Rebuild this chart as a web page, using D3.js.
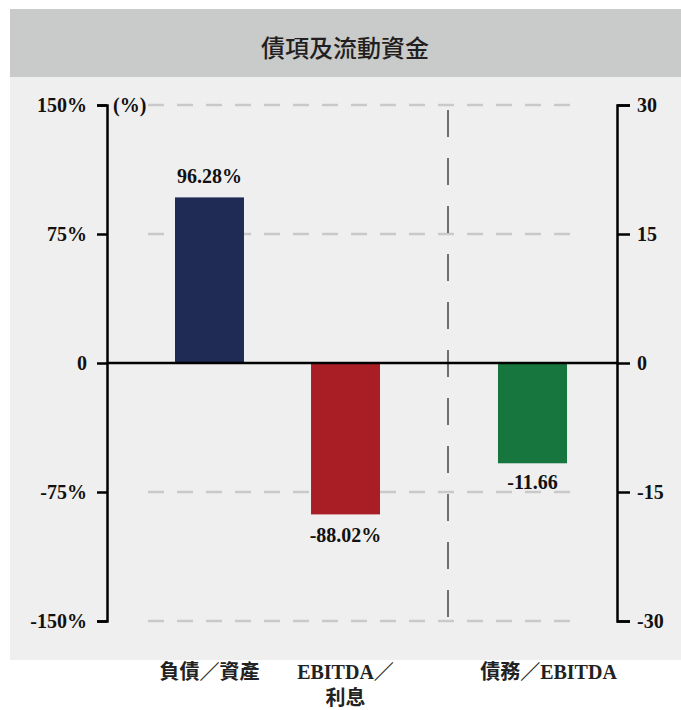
<!DOCTYPE html>
<html>
<head>
<meta charset="utf-8">
<script src="https://cdn.jsdelivr.net/npm/d3@7"></script>
<style>
  body { margin: 0; background: #fff; }
  svg { display: block; }
  .tick text, .val, .unit { font-family: "Liberation Serif", "Noto Sans CJK TC", serif; font-weight: bold; font-size: 20px; fill: #111; }
  .cat { font-family: "Liberation Serif", "Noto Sans CJK TC", serif; font-weight: bold; font-size: 20px; fill: #222; }
</style>
</head>
<body>
<svg width="681" height="710"></svg>
<script>
// left panel (%), right panel (times)
const leftCategories = ["負債／資產", "EBITDA／\n利息"];
const leftValues = [96.28, -88.02];
const rightCategories = ["債務／EBITDA"];
const rightValues = [-11.66];
const leftTicks = [150, 75, 0, -75, -150];
const rightTicks = [30, 15, 0, -15, -30];
const barColours = ["#1f2b55", "#a91e24", "#17763d"];
const title = "債項及流動資金";

let svg = d3.select("svg");
let width = +svg.attr("width");

// backgrounds
svg.append("rect").attr("x", 10).attr("y", 9).attr("width", width - 10).attr("height", 68).attr("fill", "#c9caca");
svg.append("rect").attr("x", 10).attr("y", 77).attr("width", width - 10).attr("height", 583).attr("fill", "#efefef");

svg.append("text")
  .attr("x", 345).attr("y", 57)
  .attr("text-anchor", "middle")
  .style("font-family", "'Noto Sans CJK TC', sans-serif")
  .style("font-size", "24px")
  .style("font-weight", "500")
  .style("fill", "#231f20")
  .text(title);

// scales
let yLeft = d3.scaleLinear().domain([-150, 150]).range([621, 105]);
let yRight = d3.scaleLinear().domain([-30, 30]).range([621, 105]);

let xLeft = d3.scaleBand().domain(leftCategories).range([107, 448]).paddingInner(0.493).paddingOuter(0.5);
let xRight = d3.scaleBand().domain(rightCategories).range([448, 617]).paddingInner(0.493).paddingOuter(0.367);

// dashed gridlines (not at zero)
svg.append("g")
  .selectAll("line")
  .data(leftTicks.filter(d => d !== 0))
  .enter()
  .append("line")
  .attr("x1", 148).attr("x2", 578)
  .attr("y1", d => yLeft(d)).attr("y2", d => yLeft(d))
  .attr("stroke", "#c9c9c9")
  .attr("stroke-width", 2.5)
  .attr("stroke-dasharray", "16,13");

// panel divider
svg.append("line")
  .attr("x1", 448).attr("x2", 448)
  .attr("y1", 110).attr("y2", 621)
  .attr("stroke", "#444")
  .attr("stroke-width", 1.5)
  .attr("stroke-dasharray", "27,21");

// bars
svg.append("g")
  .selectAll("rect")
  .data(leftValues)
  .enter()
  .append("rect")
  .attr("x", (d, i) => xLeft(leftCategories[i]))
  .attr("width", xLeft.bandwidth())
  .attr("y", d => yLeft(Math.max(0, d)))
  .attr("height", d => Math.abs(yLeft(d) - yLeft(0)))
  .attr("fill", (d, i) => barColours[i]);

svg.append("g")
  .selectAll("rect")
  .data(rightValues)
  .enter()
  .append("rect")
  .attr("x", (d, i) => xRight(rightCategories[i]))
  .attr("width", xRight.bandwidth())
  .attr("y", d => yRight(Math.max(0, d)))
  .attr("height", d => Math.abs(yRight(d) - yRight(0)))
  .attr("fill", (d, i) => barColours[leftValues.length + i]);

// zero line
svg.append("line")
  .attr("x1", 107).attr("x2", 617)
  .attr("y1", yLeft(0)).attr("y2", yLeft(0))
  .attr("stroke", "#000")
  .attr("stroke-width", 2.5);

// axes
let leftAxis = svg.append("g")
  .attr("transform", "translate(107,0)")
  .call(d3.axisLeft(yLeft).tickValues(leftTicks).tickSize(10).tickPadding(10)
    .tickFormat(d => d === 0 ? "0" : d + "%"));
let rightAxis = svg.append("g")
  .attr("transform", "translate(617,0)")
  .call(d3.axisRight(yRight).tickValues(rightTicks).tickSize(13).tickPadding(7)
    .tickFormat(d => d));

[leftAxis, rightAxis].forEach(a => {
  a.selectAll("path, line").attr("stroke", "#000").attr("stroke-width", 2.5);
  a.selectAll("text").attr("font-size", null).attr("font-family", null);
  a.attr("font-size", null).attr("font-family", null);
});

svg.append("text").attr("class", "unit")
  .attr("x", 113).attr("y", yLeft(150) + 7)
  .text("(%)");

// value labels
svg.append("g")
  .selectAll("text")
  .data(leftValues)
  .enter()
  .append("text")
  .attr("class", "val")
  .attr("text-anchor", "middle")
  .attr("x", (d, i) => xLeft(leftCategories[i]) + xLeft.bandwidth() / 2)
  .attr("y", d => d >= 0 ? yLeft(d) - 14 : yLeft(d) + 28)
  .text(d => d.toFixed(2) + "%");

svg.append("g")
  .selectAll("text")
  .data(rightValues)
  .enter()
  .append("text")
  .attr("class", "val")
  .attr("text-anchor", "middle")
  .attr("x", (d, i) => xRight(rightCategories[i]) + xRight.bandwidth() / 2)
  .attr("y", d => d >= 0 ? yRight(d) - 14 : yRight(d) + 26)
  .text(d => d.toFixed(2));

// category labels
function catLabel(scale, cats, dx) {
  cats.forEach(c => {
    let t = svg.append("text")
      .attr("class", "cat")
      .attr("text-anchor", "middle")
      .attr("x", scale(c) + scale.bandwidth() / 2 + dx)
      .attr("y", 679);
    c.split("\n").forEach((line, j) => {
      t.append("tspan")
        .attr("x", scale(c) + scale.bandwidth() / 2 + dx)
        .attr("dy", j === 0 ? 0 : 26)
        .text(line);
    });
  });
}
catLabel(xLeft, leftCategories, 0);
catLabel(xRight, rightCategories, 16);
</script>
</body>
</html>
